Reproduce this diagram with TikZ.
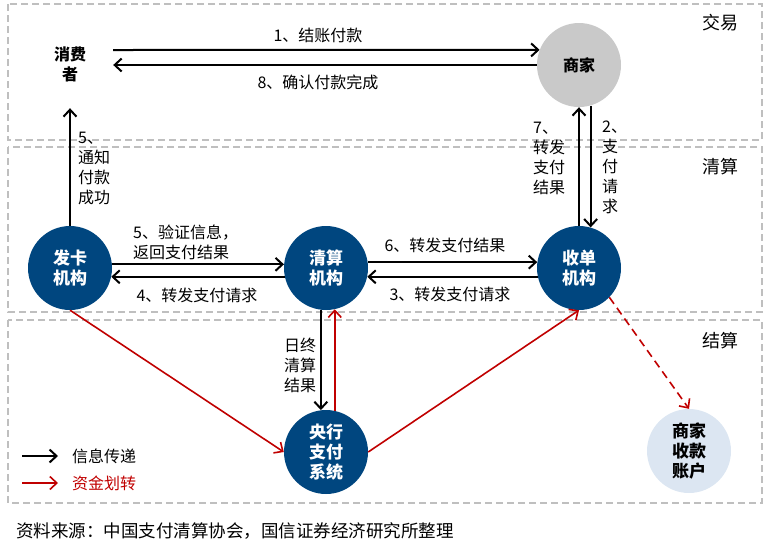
\documentclass[tikz,border=0pt]{standalone}
\usepackage{fontspec}
\setmainfont{Noto Sans CJK SC}
\usetikzlibrary{arrows.meta}
\definecolor{navy}{HTML}{00467F}
\definecolor{mgray}{HTML}{C9C9C9}
\definecolor{lblue}{HTML}{DCE6F2}
\definecolor{fundred}{HTML}{C00000}
\definecolor{bandgray}{HTML}{BFBFBF}
\tikzset{
  band/.style={draw=bandgray, line width=1.3pt, dash pattern=on 7pt off 4pt},
  org/.style={circle, fill=navy, minimum size=84pt, inner sep=0pt, text=white,
    font=\bfseries\fontsize{17}{20}\selectfont, align=center},
  lbl/.style={font=\fontsize{16}{20}\selectfont, align=left, inner sep=0pt},
  zone/.style={font=\fontsize{18}{20}\selectfont, inner sep=0pt},
  info/.style={draw=black, line width=2pt, -{Straight Barb[length=7pt,width=13pt]}},
  fund/.style={draw=fundred, line width=1.6pt, -{Straight Barb[length=7pt,width=13pt]}},
}
\begin{document}
\begin{tikzpicture}[x=1pt,y=-1pt]
\useasboundingbox (0,0) rectangle (768,542);
% bands
\draw[band] (8,4) rectangle (762,140);
\draw[band] (8,147) rectangle (762,312);
\draw[band] (8,320) rectangle (762,503);
\node[zone] (zjy) at (720,23) {交易};
\node[zone] (zqs) at (720,167) {清算};
\node[zone] (zjs) at (720,341) {结算};
% nodes
\node[font=\bfseries\fontsize{16}{20}\selectfont, align=center, minimum width=86pt, minimum height=88pt, inner sep=0pt] (xf) at (70,64) {消费\\者};
\node[circle, fill=mgray, minimum size=84pt, inner sep=0pt, font=\bfseries\fontsize{16}{20}\selectfont] (sj) at (579,65) {商家};
\node[org] (fk) at (70,268) {发卡\\机构};
\node[org] (qs) at (326,268) {清算\\机构};
\node[org] (sd) at (579,268) {收单\\机构};
\node[org] (yh) at (326,452) {央行\\支付\\系统};
\node[circle, fill=lblue, minimum size=84pt, inner sep=0pt, align=center, font=\bfseries\fontsize{17}{20}\selectfont] (zh) at (689,451) {商家\\收款\\账户};
% consumer <-> merchant
\draw[info] ([yshift=14pt]xf.east) -- (sj.159);
\draw[info] (sj.180) -- ([yshift=-1pt]xf.east);
\node[lbl] (l1) at (318,35) {1、结账付款};
\node[lbl] (l8) at (318,82) {8、确认付款完成};
% issuer -> consumer
\draw[info] (fk.north) -- (xf.south);
\node[lbl, anchor=west] (l5a) at (78,168) {5、\\通知\\付款\\成功};
% issuer <-> clearing
\draw[info] (fk.5) -- (qs.175);
\draw[info] (qs.-168) -- (fk.-12);
\node[lbl, anchor=west] (l5b) at (133,242) {5、验证信息，\\返回支付结果};
\node[lbl] (l4) at (197,295) {4、转发支付请求};
% clearing <-> acquirer
\draw[info] (qs.8) -- (sd.172);
\draw[info] (sd.-168) -- (qs.-12);
\node[lbl] (l6) at (445,245) {6、转发支付结果};
\node[lbl] (l3) at (450,294) {3、转发支付请求};
% acquirer <-> merchant
\draw[info] (sd.north) -- (sj.south);
\draw[info] (sj.-74) -- (sd.74);
\node[lbl, anchor=west] (l7) at (533,158) {7、\\转发\\支付\\结果};
\node[lbl, anchor=west] (l2) at (602,167) {2、\\支\\付\\请\\求};
% clearing <-> central bank
\draw[info] (qs.-97) -- (yh.97);
\draw[fund] (yh.78) -- (qs.-78);
\node[lbl, anchor=west] (lrz) at (284,365) {日终\\清算\\结果};
% fund flows
\draw[fund] (fk.south) -- (yh.west);
\draw[fund] (yh.east) -- (sd.south);
\draw[fund, dash pattern=on 8pt off 5pt] (sd.-44) -- (zh.north);
% legend
\coordinate (lga) at (22,456);
\coordinate (lgb) at (58,456);
\coordinate (lgc) at (22,483);
\coordinate (lgd) at (58,483);
\draw[info] (lga) -- (lgb);
\draw[fund] (lgc) -- (lgd);
\node[lbl, anchor=west] (lg1) at (72,456) {信息传递};
\node[lbl, anchor=west, text=fundred] (lg2) at (72,483) {资金划转};
% footer
\node[anchor=west, inner sep=0pt, font=\fontsize{17.5}{20}\selectfont] (src) at (16,531) {资料来源：中国支付清算协会，国信证券经济研究所整理};
\end{tikzpicture}
\end{document}
